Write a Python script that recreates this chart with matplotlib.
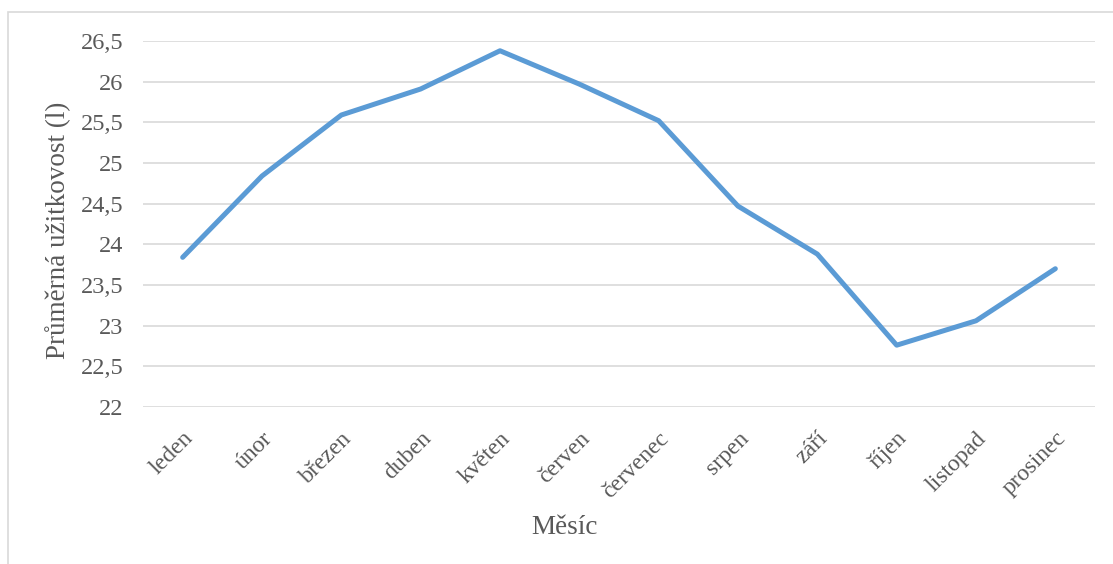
import numpy as np
import matplotlib
matplotlib.use('Agg')
import matplotlib.pyplot as plt
from matplotlib.ticker import FuncFormatter, MultipleLocator
from matplotlib.patches import Rectangle

plt.rcParams['font.family'] = ['Liberation Serif', 'DejaVu Serif']

months = ['leden', 'únor', 'březen', 'duben', 'květen', 'červen',
          'červenec', 'srpen', 'září', 'říjen', 'listopad', 'prosinec']
yield_avg = [23.84, 24.84, 25.59, 25.91, 26.38, 25.97,
             25.52, 24.47, 23.88, 22.76, 23.06, 23.70]

TXT = '#595959'

fig = plt.figure(figsize=(11.13, 5.64), dpi=100)
ax = fig.add_axes([143 / 1113, 1 - 407 / 564, (1095 - 143) / 1113, (407 - 41) / 564])

x = np.arange(len(months))
ax.plot(x, yield_avg, color='#5B9BD5', lw=3.6, solid_capstyle='round', solid_joinstyle='round', zorder=3)

ax.set_xlim(-0.5, len(months) - 0.5)
ax.set_ylim(22, 26.5)
ax.yaxis.set_major_locator(MultipleLocator(0.5))
ax.yaxis.set_major_formatter(FuncFormatter(lambda v, p: f'{v:g}'.replace('.', ',')))
ax.grid(axis='y', color='#D9D9D9', lw=1.2)
ax.set_axisbelow(True)
for s in ax.spines.values():
    s.set_visible(False)

ax.set_xticks(x)
ax.set_xticklabels(months, rotation=45, ha='right', va='top', rotation_mode='anchor')
ax.tick_params(axis='both', length=0, colors=TXT)
ax.tick_params(axis='x', pad=15, labelsize=17)
ax.tick_params(axis='y', pad=14, labelsize=17.5)

fig.text(58 / 1113, 1 - 230 / 564, 'Průměrná užitkovost (l)', fontsize=19.5, color=TXT,
         rotation=90, ha='center', va='center')
fig.text(564 / 1113, 1 - 527 / 564, 'Měsíc', fontsize=19.5, color=TXT, ha='center', va='center')

# outer chart border
fig.patches.append(Rectangle((8 / 1113, -0.05), 1.1, 1 - 12 / 564 + 0.05,
                             transform=fig.transFigure, fill=False,
                             edgecolor='#D9D9D9', lw=1.2, clip_on=False))

fig.savefig('out.png', dpi=100, facecolor='white')
